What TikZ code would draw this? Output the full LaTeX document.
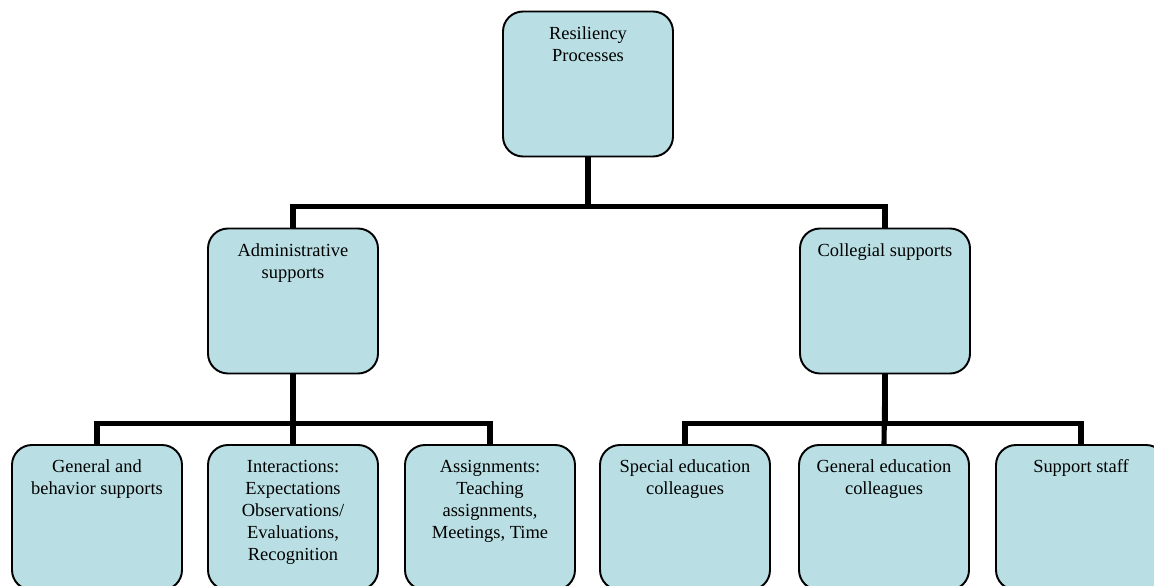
\documentclass[tikz,border=0pt]{standalone}
\usepackage{fontspec}
\setmainfont{Liberation Serif}
\usepackage{xcolor}
\usepackage{tikz}
\definecolor{boxblue}{RGB}{185,223,228}
\tikzset{
roundboxv1/.style={rectangle, rounded corners=0.4cm, draw=black!100, fill=boxblue, line width=1.1pt, inner sep=0.25cm, minimum width=3.4cm, minimum height=2.9cm, font=\fontsize{10.5}{12.5}\selectfont},
connectorv1/.style={draw=black!100, line width=2.9pt},
}
\newcommand{\boxtext}[1]{\parbox[c][2.4cm][t]{2.9cm}{\vspace*{0.05cm}\centering #1}}

\begin{document}
\begin{tikzpicture}
\useasboundingbox (0,0) rectangle (23.08,-11.72);
\clip (0,0) rectangle (23.08,-11.72);

\node[roundboxv1] at (11.76,-1.68) (root) {\boxtext{Resiliency\\Processes}};

\node[roundboxv1] at (5.86,-6.02) (admin) {\boxtext{Administrative\\supports}};
\node[roundboxv1] at (17.70,-6.02) (coll) {\boxtext{Collegial supports}};

\node[roundboxv1] at (1.94,-10.35) (genbeh) {\boxtext{General and\\behavior supports}};
\node[roundboxv1] at (5.86,-10.35) (inter) {\boxtext{Interactions:\\Expectations\\Observations/\\Evaluations,\\Recognition}};
\node[roundboxv1] at (9.80,-10.35) (assign) {\boxtext{Assignments:\\Teaching\\assignments,\\Meetings, Time}};
\node[roundboxv1] at (13.70,-10.35) (speced) {\boxtext{Special education\\colleagues}};
\node[roundboxv1] at (17.68,-10.35) (gened) {\boxtext{General education\\colleagues}};
\node[roundboxv1] at (21.62,-10.35) (staff) {\boxtext{Support staff}};

\draw[connectorv1] (root.south) -- ++(0,-0.98) -| (admin.north);
\draw[connectorv1] (root.south) -- ++(0,-0.98) -| (coll.north);

\draw[connectorv1] (admin.south) -- ++(0,-0.98) -| (genbeh.north);
\draw[connectorv1] (admin.south) -- (inter.north);
\draw[connectorv1] (admin.south) -- ++(0,-0.98) -| (assign.north);

\draw[connectorv1] (coll.south) -- ++(0,-0.98) -| (speced.north);
\draw[connectorv1] (coll.south) -- (gened.north);
\draw[connectorv1] (coll.south) -- ++(0,-0.98) -| (staff.north);

\end{tikzpicture}
\end{document}
